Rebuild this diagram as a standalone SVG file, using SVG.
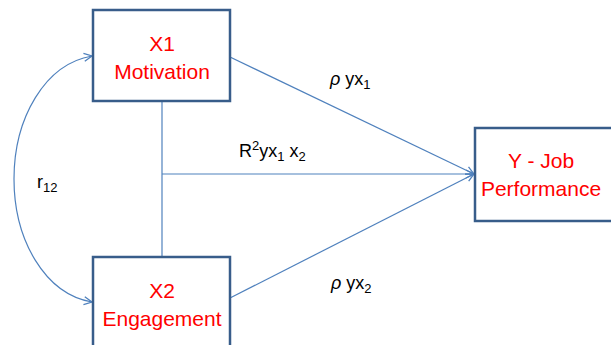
<svg xmlns="http://www.w3.org/2000/svg" width="611" height="345" viewBox="0 0 611 345">
<defs>
<style>
.box{fill:#fff;stroke:#385D8A;stroke-width:2.5}
.ln{fill:none;stroke:#4F81BD;stroke-width:1.2}
.nt{font-family:"Liberation Sans",Arial,sans-serif;font-size:21px;fill:#FF0000;text-anchor:middle}
.lb{font-family:"Liberation Sans",Arial,sans-serif;font-size:18px;fill:#000}
.sub{font-size:13px}
</style>
<marker id="ah" viewBox="0 0 10 10" refX="9" refY="5" markerWidth="10" markerHeight="10" markerUnits="userSpaceOnUse" orient="auto-start-reverse">
<path d="M1 1 L9 5 L1 9" fill="none" stroke="#4F81BD" stroke-width="1.3"/>
</marker>
</defs>
<g id="connectors">
<line class="ln" x1="162" y1="101" x2="162" y2="257"/>
<line class="ln" x1="162" y1="174" x2="474" y2="174" marker-end="url(#ah)"/>
<line class="ln" x1="230" y1="57" x2="474" y2="174" marker-end="url(#ah)"/>
<line class="ln" x1="230" y1="298" x2="474" y2="174" marker-end="url(#ah)"/>
<path class="ln" d="M92 56 C45 64,14 118,14 179 C14 240,45 294,92 302" marker-start="url(#ah)" marker-end="url(#ah)"/>
</g>
<g id="x1">
<rect class="box" x="93" y="10" width="137" height="91"/>
<text class="nt" x="162" y="51">X1</text>
<text class="nt" x="162" y="79">Motivation</text>
</g>
<g id="x2">
<rect class="box" x="93" y="257" width="137" height="95"/>
<text class="nt" x="162" y="298">X2</text>
<text class="nt" x="162" y="326">Engagement</text>
</g>
<g id="y">
<rect class="box" x="475" y="128" width="145" height="93"/>
<text class="nt" x="541" y="168">Y - Job</text>
<text class="nt" x="541" y="196">Performance</text>
</g>
<g id="labels">
<text class="lb" x="37" y="188">r<tspan class="sub" dy="4">12</tspan></text>
<text class="lb" x="330" y="85"><tspan font-style="italic">ρ</tspan> yx<tspan class="sub" dy="4">1</tspan></text>
<text class="lb" x="239" y="157">R<tspan class="sub" dy="-7">2</tspan><tspan dy="7">yx</tspan><tspan class="sub" dy="4">1</tspan><tspan dy="-4"> x</tspan><tspan class="sub" dy="4">2</tspan></text>
<text class="lb" x="331" y="289"><tspan font-style="italic">ρ</tspan> yx<tspan class="sub" dy="4">2</tspan></text>
</g>
</svg>
